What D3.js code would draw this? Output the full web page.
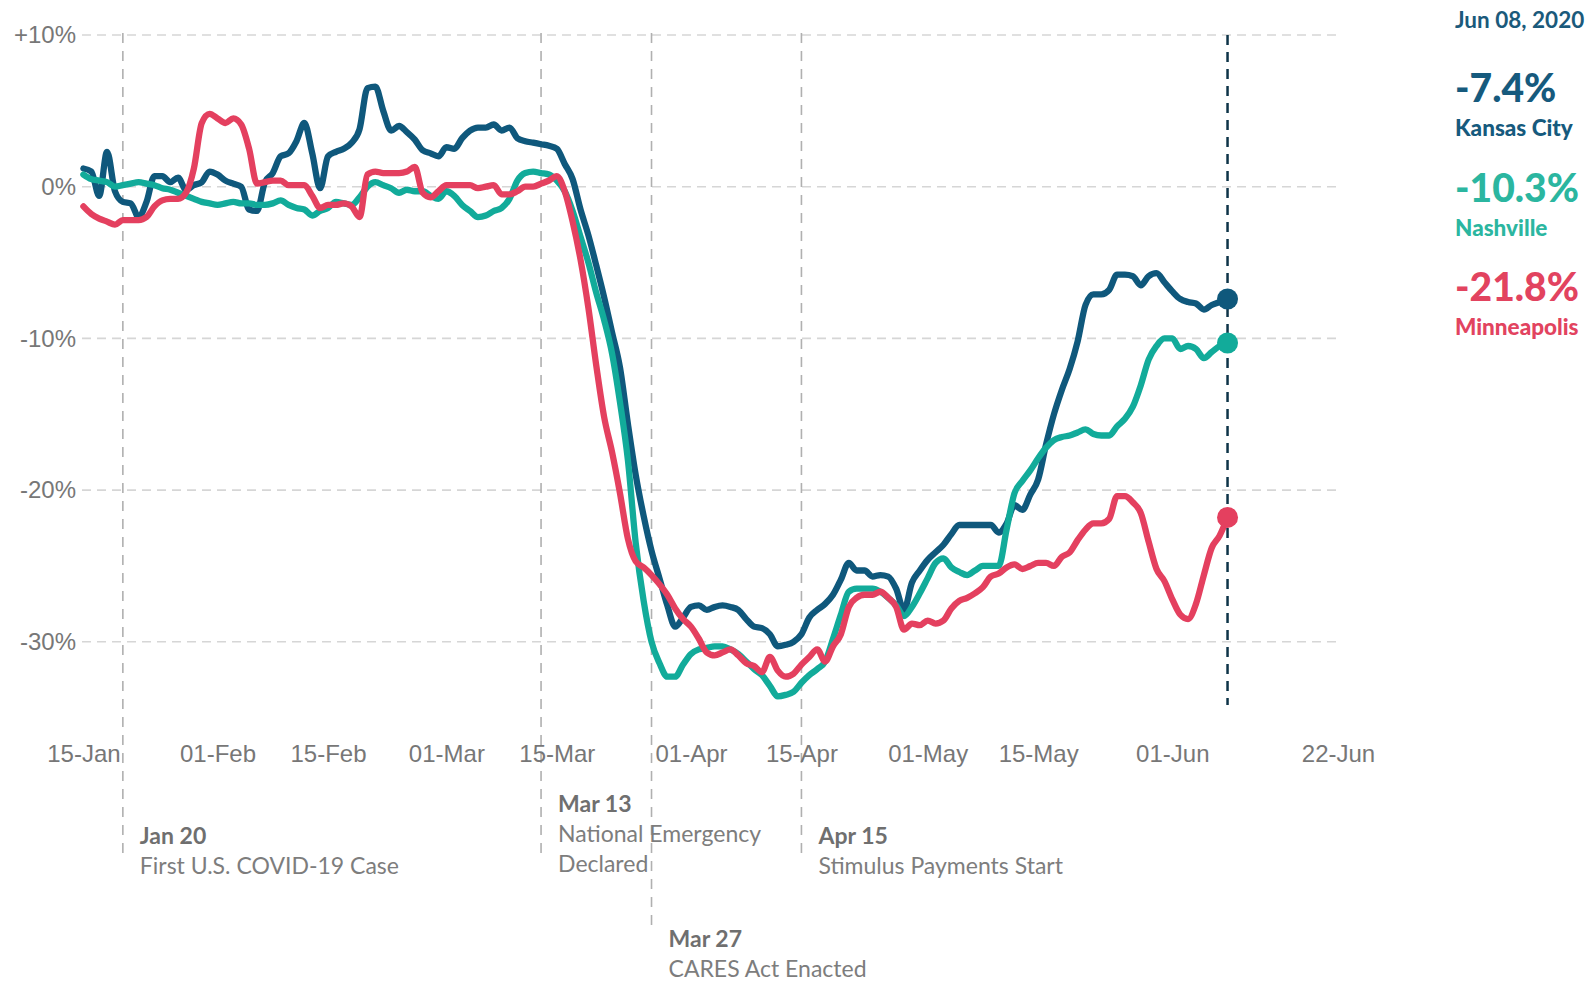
<!DOCTYPE html>
<html>
<head>
<meta charset="utf-8">
<script src="https://cdn.jsdelivr.net/npm/d3@7"></script>
<style>
  body { margin: 0; background: #fff; }
  svg { display: block; }
</style>
</head>
<body>
<svg id="chart" width="1590" height="981"></svg>
<script>
// daily values (% change), starting 2020-01-15
const startDate = "2020-01-15";

const kansasCity = [
  1.2, 1.0, -0.6, 2.3, -0.3, -1.0, -1.1, -2.0, -1.0, 0.7,
  0.7, 0.3, 0.6, -0.2, 0.1, 0.3, 1.0, 0.8, 0.4, 0.2,
  0.0, -1.5, -1.6, 0.3, 0.9, 2.0, 2.2, 3.0, 4.2, 2.2,
  -0.1, 2.0, 2.3, 2.5, 2.9, 3.8, 6.5, 6.6, 5.0, 3.7,
  4.0, 3.6, 3.1, 2.4, 2.2, 2.0, 2.6, 2.5, 3.2, 3.7,
  3.9, 3.9, 4.1, 3.7, 3.9, 3.2, 3.0, 2.9, 2.8, 2.7,
  2.5, 1.5, 0.5, -1.5, -3.2, -5.2, -7.3, -9.6, -11.9, -15.6,
  -19.0, -21.7, -24.0, -25.8, -27.6, -29.0, -28.4, -27.7, -27.6, -27.9,
  -27.7, -27.6, -27.7, -27.9, -28.5, -29.0, -29.1, -29.5, -30.3, -30.2,
  -30.0, -29.5, -28.4, -27.9, -27.5, -26.9, -25.9, -24.8, -25.3, -25.3,
  -25.7, -25.6, -25.7, -26.5, -27.9, -26.1, -25.3, -24.6, -24.1, -23.6,
  -22.9, -22.3, -22.3, -22.3, -22.3, -22.3, -22.8, -22.2, -21.0, -21.3,
  -20.3, -19.3, -17.0, -15.0, -13.4, -12.0, -10.2, -7.8, -7.1, -7.1,
  -6.8, -5.8, -5.8, -5.9, -6.5, -5.9, -5.7, -6.3, -6.9, -7.4,
  -7.6, -7.7, -8.1, -7.8, -7.6, -7.4
];

const nashville = [
  0.8, 0.5, 0.4, 0.3, 0.0, 0.1, 0.2, 0.3, 0.2, 0.1,
  -0.1, -0.2, -0.4, -0.6, -0.8, -1.0, -1.1, -1.2, -1.1, -1.0,
  -1.1, -1.1, -1.2, -1.2, -1.1, -0.9, -1.2, -1.4, -1.5, -1.9,
  -1.6, -1.4, -1.0, -1.1, -1.2, -0.7, 0.0, 0.3, 0.1, -0.1,
  -0.4, -0.2, -0.3, -0.3, -0.6, -0.8, -0.3, -0.6, -1.2, -1.6,
  -2.0, -1.9, -1.6, -1.4, -0.8, 0.4, 0.9, 1.0, 0.9, 0.8,
  0.4, -0.3, -1.6, -3.3, -5.0, -7.0, -8.8, -11.0, -14.2, -18.0,
  -23.5, -27.3, -30.0, -31.4, -32.3, -32.3, -31.5, -30.8, -30.5, -30.4,
  -30.3, -30.3, -30.5, -30.8, -31.3, -31.8, -32.2, -32.9, -33.6, -33.5,
  -33.3, -32.7, -32.2, -31.8, -31.3, -29.8, -28.2, -26.7, -26.5, -26.5,
  -26.5, -26.7, -27.1, -27.6, -28.3, -27.7, -26.8, -25.8, -24.8, -24.5,
  -25.1, -25.4, -25.6, -25.3, -25.0, -25.0, -25.0, -22.6, -20.2, -19.4,
  -18.7, -17.9, -17.2, -16.7, -16.5, -16.4, -16.2, -16.0, -16.3, -16.4,
  -16.4, -15.8, -15.3, -14.5, -13.1, -11.4, -10.5, -10.0, -10.0, -10.7,
  -10.5, -10.7, -11.3, -10.9, -10.5, -10.3
];

const minneapolis = [
  -1.3, -1.8, -2.1, -2.3, -2.5, -2.2, -2.2, -2.2, -2.0, -1.3,
  -0.9, -0.8, -0.8, -0.4, 1.2, 4.2, 4.8, 4.5, 4.2, 4.5,
  4.1, 2.5, 0.2, 0.3, 0.4, 0.4, 0.1, 0.1, 0.1, -0.6,
  -1.4, -1.2, -1.2, -1.1, -1.3, -2.0, 0.8, 1.0, 0.9, 0.9,
  0.9, 1.0, 1.3, -0.4, -0.7, -0.3, 0.1, 0.1, 0.1, 0.1,
  -0.1, 0.0, 0.1, -0.5, -0.5, -0.3, 0.0, 0.0, 0.2, 0.4,
  0.7, -0.3, -2.3, -4.8, -8.0, -11.8, -15.2, -17.5, -20.2, -23.2,
  -24.7, -25.1, -25.6, -26.2, -26.9, -27.8, -28.5, -29.0, -29.8, -30.7,
  -30.9, -30.7, -30.5, -30.9, -31.4, -31.6, -32.0, -31.0, -31.9, -32.3,
  -32.1, -31.5, -31.0, -30.5, -31.3, -30.3, -29.5, -27.7, -27.1, -26.9,
  -26.9, -26.7, -27.1, -27.7, -29.2, -28.8, -28.9, -28.6, -28.8, -28.6,
  -27.8, -27.3, -27.1, -26.8, -26.4, -25.7, -25.5, -25.1, -24.9, -25.2,
  -25.0, -24.8, -24.8, -25.0, -24.4, -24.1, -23.3, -22.6, -22.2, -22.2,
  -21.9, -20.4, -20.4, -20.8, -21.5, -23.4, -25.2, -26.0, -27.2, -28.2,
  -28.5, -27.5, -25.6, -23.8, -23.0, -21.8
];

const cityNames = ["Kansas City", "Nashville", "Minneapolis"];
const cityColors = ["#0f587c", "#12ab9a", "#e4405f"];
const labelColors = ["#165a7d", "#2bb6a0", "#e2435f"];

const yTicks = [10, 0, -10, -20, -30];
const xTicks = ["2020-01-15", "2020-02-01", "2020-02-15", "2020-03-01", "2020-03-15",
  "2020-04-01", "2020-04-15", "2020-05-01", "2020-05-15", "2020-06-01", "2020-06-22"];
const xDomain = ["2020-01-15", "2020-06-22"];

const events = [
  {date: "2020-01-20", title: "Jan 20", text: ["First U.S. COVID-19 Case"]},
  {date: "2020-03-13", title: "Mar 13", text: ["National Emergency", "Declared"]},
  {date: "2020-03-27", title: "Mar 27", text: ["CARES Act Enacted"]},
  {date: "2020-04-15", title: "Apr 15", text: ["Stimulus Payments Start"]}
];

const lastDateLabel = "Jun 08, 2020";

// -------------------------------------------------------------
const parse = d3.timeParse("%Y-%m-%d");
const svg = d3.select("#chart");

const x = d3.scaleTime()
  .domain(xDomain.map(parse))
  .range([83.4, 1338]);
const y = d3.scaleLinear()
  .domain([-30, 10])
  .range([641.8, 35]);

const series = [kansasCity, nashville, minneapolis].map(function(vals, i){
  return {
    name: cityNames[i],
    color: cityColors[i],
    label: labelColors[i],
    values: vals.map(function(v, j){ return {date: d3.timeDay.offset(parse(startDate), j), value: v}; })
  };
});

// gridlines
svg.append("g").selectAll("line")
  .data(yTicks)
  .enter().append("line")
  .attr("x1", 82).attr("x2", 1338)
  .attr("y1", d => y(d)).attr("y2", d => y(d))
  .attr("stroke", "#d6d6d6")
  .attr("stroke-width", 1.6)
  .attr("stroke-dasharray", "9,6");

// event lines
const eventBottom = {"Mar 27": 933};
svg.append("g").selectAll("line")
  .data(events)
  .enter().append("line")
  .attr("x1", d => x(parse(d.date))).attr("x2", d => x(parse(d.date)))
  .attr("y1", 33)
  .attr("y2", d => eventBottom[d.title] || 853)
  .attr("stroke", "#b0b0b0")
  .attr("stroke-width", 1.6)
  .attr("stroke-dasharray", "10,8");

// axes
const xAxis = svg.append("g")
  .attr("transform", "translate(0,745)")
  .call(d3.axisBottom(x).tickValues(xTicks.map(parse)).tickFormat(d3.timeFormat("%d-%b")).tickSize(0).tickPadding(0));
const yAxis = svg.append("g")
  .attr("transform", "translate(76,0)")
  .call(d3.axisLeft(y).tickValues(yTicks).tickFormat(v => (v > 0 ? "+" : "") + v + "%").tickSize(0).tickPadding(0));
[xAxis, yAxis].forEach(function(g){
  g.select(".domain").remove();
  g.selectAll("text")
    .attr("fill", "#777")
    .style("font-family", "'Liberation Sans', Arial, sans-serif")
    .style("font-size", "24px");
});

// annotation text
const annTop = {"Mar 13": 804, "Mar 27": 939};
const ann = svg.append("g").selectAll("g")
  .data(events)
  .enter().append("g")
  .attr("transform", d => "translate(" + (x(parse(d.date)) + 17) + "," + (annTop[d.title] || 836) + ")");
ann.append("text")
  .attr("y", 8)
  .attr("fill", "#6f6f6f")
  .style("font-family", "Lato, sans-serif")
  .style("font-weight", "bold")
  .style("font-size", "23px")
  .text(d => d.title);
ann.each(function(d){
  d3.select(this).selectAll(".desc")
    .data(d.text)
    .enter().append("text")
    .attr("class", "desc")
    .attr("y", (t, i) => 38 + i * 30)
    .attr("fill", "#7d7d7d")
    .style("font-family", "Lato, sans-serif")
    .style("font-size", "23px")
    .text(t => t);
});

// lines
const line = d3.line()
  .x(d => x(d.date))
  .y(d => y(d.value))
  .curve(d3.curveMonotoneX);

svg.append("g").selectAll("path")
  .data(series)
  .enter().append("path")
  .attr("d", d => line(d.values))
  .attr("fill", "none")
  .attr("stroke", d => d.color)
  .attr("stroke-width", 6.3)
  .attr("stroke-linejoin", "round")
  .attr("stroke-linecap", "round");

// last-date marker
const lastDate = series[0].values[series[0].values.length - 1].date;
svg.append("line")
  .attr("x1", x(lastDate)).attr("x2", x(lastDate))
  .attr("y1", 35).attr("y2", 705)
  .attr("stroke", "#0e3448")
  .attr("stroke-width", 2.5)
  .attr("stroke-dasharray", "10,7");

svg.append("g").selectAll("circle")
  .data(series)
  .enter().append("circle")
  .attr("cx", x(lastDate))
  .attr("cy", d => y(d.values[d.values.length - 1].value))
  .attr("r", 10.5)
  .attr("fill", d => d.color);

// legend
const legend = svg.append("g").attr("transform", "translate(1455,0)");
legend.append("text")
  .attr("y", 28)
  .attr("fill", "#1b5a7b")
  .style("font-family", "Lato, sans-serif")
  .style("font-weight", "bold")
  .style("font-size", "22.5px")
  .text(lastDateLabel);
const item = legend.selectAll(".item")
  .data(series)
  .enter().append("g")
  .attr("class", "item")
  .attr("transform", (d, i) => "translate(0," + (102 + i * 99.5) + ")");
item.append("text")
  .attr("fill", d => d.label)
  .style("font-family", "Lato, sans-serif")
  .style("font-weight", "900")
  .style("font-size", "39px")
  .text(d => d.values[d.values.length - 1].value.toFixed(1) + "%");
item.append("text")
  .attr("y", 34)
  .attr("fill", d => d.label)
  .style("font-family", "Lato, sans-serif")
  .style("font-weight", "900")
  .style("font-size", "22.5px")
  .text(d => d.name);
</script>
</body>
</html>
